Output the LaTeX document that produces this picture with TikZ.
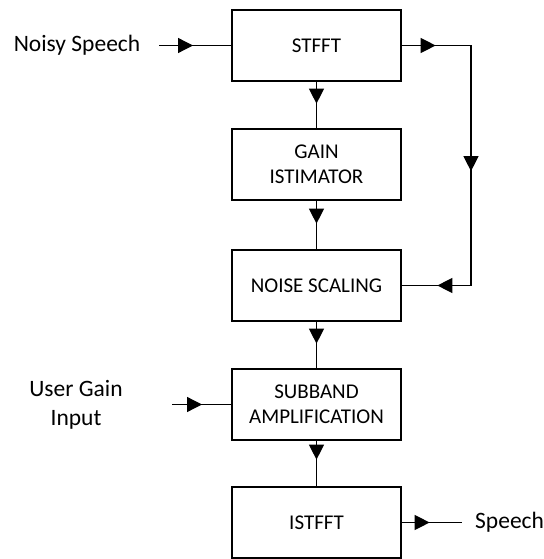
\documentclass[tikz,border=0pt]{standalone}
\usepackage{fontspec}
\setmainfont{Carlito}
\usetikzlibrary{arrows.meta,decorations.markings}
\tikzset{
  blk/.style={draw, line width=1.3pt, minimum width=169pt, minimum height=71pt, inner sep=0pt, align=center, font=\fontsize{21}{25.5}\selectfont},
  lbl/.style={align=center, inner sep=0pt, font=\fontsize{23.5}{29}\selectfont},
  wire/.style={line width=1.3pt},
  arrowat/.style={postaction={decorate, decoration={markings, mark=at position #1 with {\arrow{Triangle[length=15pt,width=15pt]}}}}}
}
\begin{document}
\begin{tikzpicture}[x=1pt,y=-1pt]
\useasboundingbox (0,0) rectangle (543,559);
\node[blk] (stfft) at (316.5,45.5) {STFFT};
\node[blk] (gain) at (316.5,164.5) {GAIN\\ISTIMATOR};
\node[blk] (noise) at (316.5,285.5) {NOISE SCALING};
\node[blk] (sub) at (316.5,404.5) {SUBBAND\\AMPLIFICATION};
\node[blk] (ist) at (316.5,522.5) {ISTFFT};
\node[lbl] (ns) at (77,45.5) {Noisy Speech};
\node[lbl] (ug) at (76,405) {User Gain\\Input};
\node[lbl, anchor=west] (sp) at (475,522.5) {Speech};
\coordinate (nsin) at (159,45.5);
\coordinate (ugin) at (172,404.5);
\coordinate (spout) at (462,522.5);
\coordinate (fb) at (471,0);
\draw[wire, arrowat=34pt] (nsin) -- (stfft.west);
\draw[wire, arrowat=34pt, arrowat=195pt, arrowat=343pt] (stfft.east) -- (stfft.east -| fb) -- (noise.east -| fb) -- (noise.east);
\draw[wire, arrowat=22pt] (stfft.south) -- (gain.north);
\draw[wire, arrowat=23pt] (gain.south) -- (noise.north);
\draw[wire, arrowat=22pt] (noise.south) -- (sub.north);
\draw[wire, arrowat=19pt] (sub.south) -- (ist.north);
\draw[wire, arrowat=30pt] (ugin) -- (sub.west);
\draw[wire, arrowat=28pt] (ist.east) -- (spout);
\end{tikzpicture}
\end{document}
